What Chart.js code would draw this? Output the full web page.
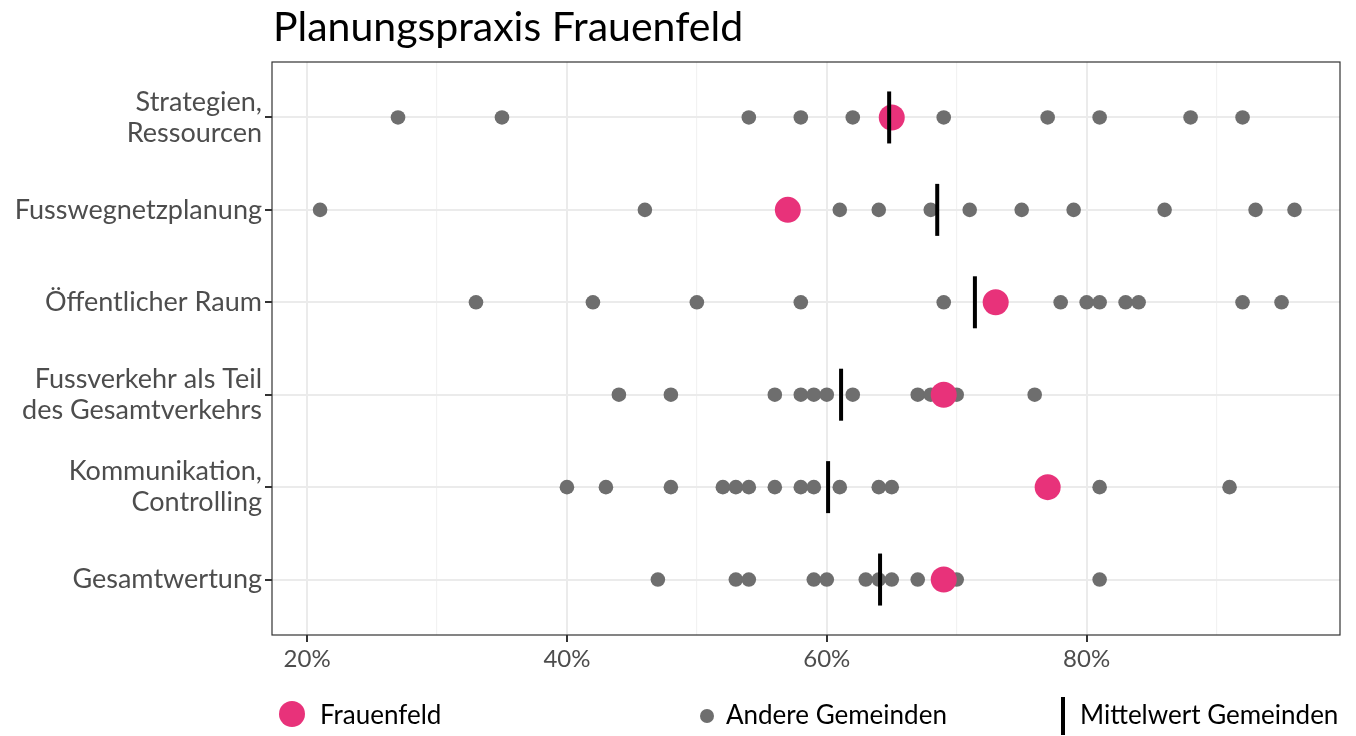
<!DOCTYPE html>
<html>
<head>
<meta charset="utf-8">
<script src="https://cdn.jsdelivr.net/npm/chart.js@4"></script>
<style>
  html, body { margin: 0; padding: 0; background: #ffffff; }
  #wrap { position: relative; width: 1356px; height: 736px; overflow: hidden; font-family: Lato, "Open Sans", sans-serif; }
  #title { position: absolute; left: 273px; top: 1px; font-size: 41px; color: #000; white-space: nowrap; }
  .leg { position: absolute; font-size: 26px; color: #000; white-space: nowrap; line-height: 1; }
  .dot { position: absolute; border-radius: 50%; }
  .bar { position: absolute; background: #000; }
  canvas { display: block; }
</style>
</head>
<body>
<div id="wrap">
  <canvas id="c" width="1356" height="736"></canvas>
  <div id="title">Planungspraxis Frauenfeld</div>
  <div class="dot" style="left:279px; top:701px; width:26px; height:26px; background:#E8327A;"></div>
  <div class="leg" style="left:320px; top:701px;">Frauenfeld</div>
  <div class="dot" style="left:700px; top:709px; width:14px; height:14px; background:#6E6E6E;"></div>
  <div class="leg" style="left:726px; top:701px;">Andere Gemeinden</div>
  <div class="bar" style="left:1061px; top:697px; width:4px; height:38px;"></div>
  <div class="leg" style="left:1080px; top:701px;">Mittelwert Gemeinden</div>
</div>
<script>
// ---- data ----
const categories = [
  ["Strategien,", "Ressourcen"],
  "Fusswegnetzplanung",
  "Öffentlicher Raum",
  ["Fussverkehr als Teil", "des Gesamtverkehrs"],
  ["Kommunikation,", "Controlling"],
  "Gesamtwertung"
];
const frauenfeld = [65, 57, 73, 69, 77, 69];
const mittelwert = [64.8, 68.5, 71.4, 61.1, 60.1, 64.1];
const andereStrategien = [27, 35, 54, 58, 62, 69, 77, 81, 88, 92];
const andereFusswegnetz = [21, 46, 61, 64, 68, 71, 75, 79, 86, 93, 96];
const andereOeffentlich = [33, 42, 50, 58, 69, 78, 80, 81, 83, 84, 92, 95];
const andereFussverkehr = [44, 48, 56, 58, 59, 60, 62, 67, 68, 70, 76];
const andereKommunikation = [40, 43, 48, 52, 53, 54, 56, 58, 59, 61, 64, 65, 81, 91];
const andereGesamt = [47, 53, 54, 59, 60, 63, 64, 65, 67, 70, 81];
const xTickValues = [20, 30, 40, 50, 60, 70, 80, 90];
const xTickLabels = ["20%", "", "40%", "", "60%", "", "80%", ""];

const andere = [andereStrategien, andereFusswegnetz, andereOeffentlich,
                andereFussverkehr, andereKommunikation, andereGesamt];

const otherPts = [];
andere.forEach((arr, i) => arr.forEach(v => otherPts.push({x: v, y: i})));
const ffPts = frauenfeld.map((v, i) => ({x: v, y: i}));
const meanPts = mittelwert.map((v, i) => ({x: v, y: i}));

const FONT = "Lato";

const borderPlugin = {
  id: 'panelBorder',
  afterDatasetsDraw(chart) {
    const a = chart.chartArea, ctx = chart.ctx;
    ctx.save();
    ctx.strokeStyle = '#333333';
    ctx.lineWidth = 1.2;
    ctx.strokeRect(a.left, a.top, a.right - a.left, a.bottom - a.top);
    ctx.restore();
  }
};

new Chart(document.getElementById('c'), {
  type: 'scatter',
  data: {
    datasets: [
      { label: 'Mittelwert Gemeinden', data: meanPts, order: 0,
        pointStyle: 'line', rotation: 90, radius: 26, hoverRadius: 26,
        borderColor: '#000000', borderWidth: 4, backgroundColor: '#000000' },
      { label: 'Frauenfeld', data: ffPts, order: 1,
        pointStyle: 'circle', radius: 13, hoverRadius: 13,
        backgroundColor: '#E8327A', borderColor: '#E8327A', borderWidth: 0 },
      { label: 'Andere Gemeinden', data: otherPts, order: 2,
        pointStyle: 'circle', radius: 7.3, hoverRadius: 7.3,
        backgroundColor: '#6E6E6E', borderColor: '#6E6E6E', borderWidth: 0 }
    ]
  },
  options: {
    responsive: false,
    animation: false,
    events: [],
    layout: { autoPadding: false, padding: { left: 0, top: 62, right: 16, bottom: 61 } },
    plugins: { legend: { display: false }, title: { display: false }, tooltip: { enabled: false } },
    scales: {
      x: {
        type: 'linear', min: 17.3, max: 99.5,
        afterBuildTicks(scale) { scale.ticks = xTickValues.map(v => ({value: v})); },
        afterFit(scale) { scale.height = 40; },
        ticks: {
          autoSkip: false, maxRotation: 0, padding: 3,
          color: '#4D4D4D', font: { family: FONT, size: 24 },
          callback(v) { const i = xTickValues.indexOf(v); return i >= 0 ? xTickLabels[i] : ''; }
        },
        grid: {
          color(ctx) { return (ctx.tick && ctx.tick.value % 20 === 0) ? '#EBEBEB' : '#F2F2F2'; },
          lineWidth(ctx) { return (ctx.tick && ctx.tick.value % 20 === 0) ? 2 : 1.2; },
          tickColor(ctx) { return (ctx.tick && ctx.tick.value % 20 === 0) ? '#333333' : 'rgba(0,0,0,0)'; },
          tickLength: 7, drawTicks: true
        },
        border: { display: false }
      },
      y: {
        type: 'linear', min: -0.6, max: 5.6, reverse: true,
        afterBuildTicks(scale) { scale.ticks = categories.map((c, i) => ({value: i})); },
        afterFit(scale) { scale.width = 272; },
        ticks: {
          autoSkip: false, padding: 3,
          color: '#4D4D4D', font: { family: FONT, size: 27, lineHeight: 1.15 },
          callback(v) { return categories[v]; }
        },
        grid: { color: '#EBEBEB', lineWidth: 2, tickColor: '#333333', tickLength: 7 },
        border: { display: false }
      }
    }
  },
  plugins: [borderPlugin]
});
</script>
</body>
</html>
